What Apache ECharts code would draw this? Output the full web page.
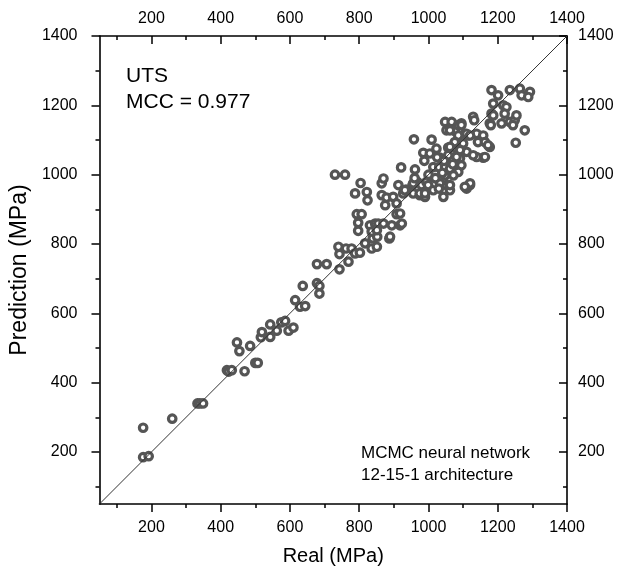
<!DOCTYPE html>
<html>
<head>
<meta charset="utf-8">
<title>UTS</title>
<style>
html,body{margin:0;padding:0;background:#fff;}
#main{width:619px;height:577px;}
</style>
<script src="https://cdn.jsdelivr.net/npm/echarts@6.0.0/dist/echarts.min.js"></script>
</head>
<body>
<div id="main"></div>
<script>
// measured (real) vs predicted UTS, MPa
var realMPa = [
	176,176,192,260,333,340,349,
	418,423,432,469,500,507,447,454,485,516,519,543,543,562,575,586,596,610,
	615,629,644,637,678,685,685,678,706,743,
	740,743,762,778,769,788,802,817,836,851,839,852,887,793,807,797,797,
	831,846,855,870,836,851,894,918,908,889,788,822,824,804,865,913,865,879,
	898,875,908,927,935,730,759,870,921,958,961,918,923,
	954,968,980,994,956,975,990,985,988,1009,1004,1023,1033,1014,1031,1048,
	1057,1064,1048,1067,1062,1052,1076,1086,1095,1081,1095,1091,1110,1105,
	1129,1132,1113,1110,1120,1139,1158,1143,1163,1177,1158,1177,1182,1201,
	1187,1182,1216,1225,1220,1235,1264,1269,1293,1288,1211,1235,1249,1254,
	1244,1278,1252,1095,1110,1120,1086,1062,1076,1100,1091,1062,1057,1081,
	1095,1062,1086,1072,1048,1052,1120,932,956,975,990,999,1014,1033,1043,
	1062,1062,1105,1187,1180,1172,1163,1139,1129,1000,1020,1040,1045,1025,
	1070,960,1030
];
var predMPa = [
	270,185,188,296,340,340,340,
	436,432,436,433,457,457,516,491,506,531,546,568,532,550,574,578,550,559,
	638,619,621,679,687,679,657,742,742,727,
	792,771,787,787,749,773,775,802,787,792,816,821,816,886,886,861,838,
	854,859,859,859,836,840,854,854,886,821,946,950,926,976,975,970,941,934,
	936,912,917,946,957,1000,1000,989,1021,1102,1015,888,859,
	970,979,970,979,946,941,936,1063,1040,1101,1061,1075,1049,1022,1021,1022,
	1078,1047,1152,1152,1130,1128,1126,1143,1148,1075,1075,1047,1066,1118,
	1167,1157,1113,960,970,1118,1113,1094,1094,1080,1049,1148,1244,1229,
	1205,1176,1200,1195,1176,1244,1248,1229,1239,1224,1148,1152,1157,1171,
	1143,1128,1092,1143,1118,1113,1113,1128,1094,1090,1071,1080,1056,1051,
	1027,1017,1008,998,998,970,975,955,975,946,946,970,955,975,936,
	955,970,965,1171,1143,1085,1051,1051,1056,1000,990,1005,1040,1050,
	1030,990,960
];
var refLine = [50, 1400];
var majorTicks = [200, 400, 600, 800, 1000, 1200, 1400];
var minorTicks = [100, 300, 500, 700, 900, 1100, 1300];

window.onload = function () {
	var myChart = echarts.init(document.getElementById('main'));
	var font = 'Liberation Sans, Arial, sans-serif';

	var points = [];
	for (var i = 0; i < realMPa.length; i++) {
		points.push([realMPa[i], predMPa[i]]);
	}

	// one axis builder, used for the 4 sides (major + minor ticks each)
	function makeAxis(pos, ticks, len, inside, showLabel, showLine, margin) {
		return {
			type: 'value',
			position: pos,
			min: 50,
			max: 1400,
			splitLine: {show: false},
			axisLine: {show: showLine, onZero: false, lineStyle: {color: '#000', width: 1.6}},
			axisTick: {show: true, customValues: ticks, length: len, inside: inside,
				lineStyle: {color: '#000', width: 1.5}},
			axisLabel: {show: showLabel, customValues: majorTicks, margin: margin,
				color: '#000', fontSize: 16, fontFamily: font,
				formatter: function (v) { return String(v); }}
		};
	}

	var xMain = makeAxis('bottom', majorTicks, 8, false, true, true, 16);
	xMain.name = 'Real (MPa)';
	xMain.nameLocation = 'middle';
	xMain.nameGap = 42;
	xMain.nameTextStyle = {color: '#000', fontSize: 20, fontFamily: font};

	var yMain = makeAxis('left', majorTicks, 8, false, true, true, 22);
	yMain.name = 'Prediction (MPa)';
	yMain.nameLocation = 'middle';
	yMain.nameGap = 58;
	yMain.nameTextStyle = {color: '#000', fontSize: 23, fontFamily: font};

	var option = {
		animation: false,
		backgroundColor: '#fff',
		grid: {left: 99, right: 52, top: 36, bottom: 73},
		xAxis: [
			xMain,
			makeAxis('bottom', minorTicks, 4, false, false, false, 16),
			makeAxis('top', majorTicks, 8, true, true, true, 9),
			makeAxis('top', minorTicks, 4, true, false, false, 9)
		],
		yAxis: [
			yMain,
			makeAxis('left', minorTicks, 4, false, false, false, 22),
			makeAxis('right', majorTicks, 8, true, true, true, 11),
			makeAxis('right', minorTicks, 4, true, false, false, 11)
		],
		graphic: [
			{type: 'text', left: 126, top: 66,
				style: {text: 'UTS', fontSize: 21, fontFamily: font, fill: '#000'}},
			{type: 'text', left: 126, top: 92,
				style: {text: 'MCC = 0.977', fontSize: 21, fontFamily: font, fill: '#000'}},
			{type: 'text', left: 361, top: 445,
				style: {text: 'MCMC neural network', fontSize: 17, fontFamily: font, fill: '#000'}},
			{type: 'text', left: 361, top: 467,
				style: {text: '12-15-1 architecture', fontSize: 17, fontFamily: font, fill: '#000'}}
		],
		series: [
			{
				type: 'scatter',
				data: points,
				symbol: 'circle',
				symbolSize: 7.5,
				itemStyle: {color: '#fff', borderColor: '#555', borderWidth: 3.2, opacity: 1},
				z: 2
			},
			{
				type: 'line',
				data: [[refLine[0], refLine[0]], [refLine[1], refLine[1]]],
				symbol: 'none',
				lineStyle: {color: '#333', width: 1},
				z: 3
			}
		]
	};
	myChart.setOption(option);
};
</script>
</body>
</html>
